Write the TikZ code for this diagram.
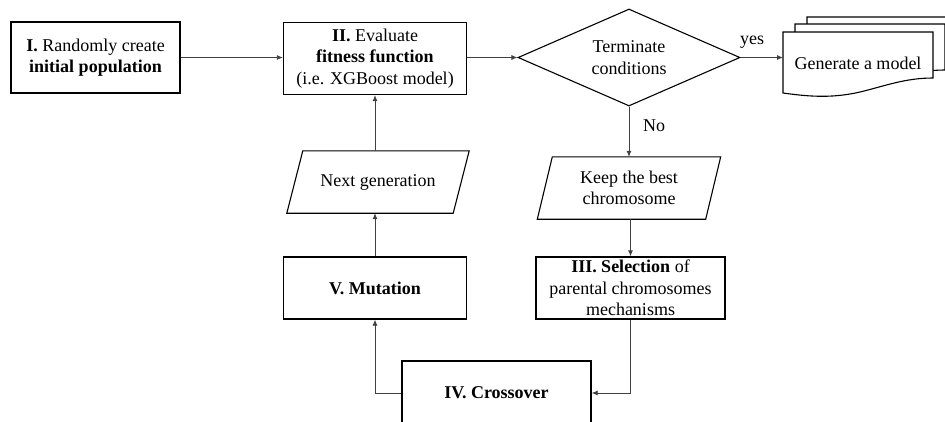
\documentclass[tikz,border=0pt]{standalone}
\usepackage{fontspec}
\setmainfont{Liberation Serif}
\usetikzlibrary{shapes.geometric,arrows.meta,calc}
\begin{document}
\begin{tikzpicture}[x=1pt,y=-1pt,
  every node/.style={font=\fontsize{18}{21.5}\selectfont, align=center, inner sep=0pt},
  rbox/.style={draw, line width=1.3pt, minimum height=62pt},
  dia/.style={draw, diamond, line width=1.1pt, aspect=2.3},
  para/.style={minimum height=62pt},
  paraline/.style={draw, line width=1.1pt},
  docline/.style={draw, line width=1.1pt, fill=white},
  conn/.style={draw=black!75, line width=0.8pt, -{Latex[length=6pt,width=5pt]}},
  lbl/.style={font=\fontsize{18}{21.5}\selectfont}]
\useasboundingbox (0,0) rectangle (945,421);
\clip (0,0) rectangle (945,421);

% nodes
\node[rbox, minimum width=169pt, minimum height=71pt] (init) at (95.5,57.5)
  {\textbf{I.} Randomly create\\\textbf{initial population}};
\node[rbox, minimum width=183pt, minimum height=72pt] (eval) at (375,58.5)
  {\textbf{II.} Evaluate\\\textbf{fitness function}\\(i.e. XGBoost model)};
\node[dia, minimum width=222pt, minimum height=97pt] (term) at (629,57.5)
  {Terminate\\conditions};

% document stack
\foreach \dx/\dy in {24/-15,12/-8,0/0}{
  \path[docline, shift={(\dx,\dy)}] (783,32) -- (933,32) -- (933,78)
    .. controls (905,78) and (885,86) .. (860,92)
    .. controls (830,99) and (805,96) .. (783,93) -- cycle;
}
\node (gen) at (858,63) [minimum width=150pt, minimum height=50pt] {Generate a model};
\coordinate (genw) at (783,57.5);

\node[para, minimum width=168pt] (keep) at (629,188) {Keep the best\\chromosome};
\path[paraline] ($(keep.north west)+(7.5,0)$) -- ($(keep.north east)+(7.5,0)$)
  -- ($(keep.south east)+(-7.5,0)$) -- ($(keep.south west)+(-7.5,0)$) -- cycle;

\node[rbox, minimum width=189pt] (sel) at (630.5,288)
  {\textbf{III. Selection} of\\parental chromosomes\\mechanisms};

\node[rbox, minimum width=189pt, minimum height=64pt] (cross) at (496.5,393)
  {\textbf{IV. Crossover}};

\node[rbox, minimum width=183pt] (mut) at (375,288) {\textbf{V. Mutation}};

\node[para, minimum width=166pt] (next) at (378,182) {Next generation};
\path[paraline] ($(next.north west)+(8,0)$) -- ($(next.north east)+(8,0)$)
  -- ($(next.south east)+(-8,0)$) -- ($(next.south west)+(-8,0)$) -- cycle;

% connectors
\draw[conn] (init.east) -- (init.east -| eval.west);
\draw[conn] (eval.east |- term.west) -- (term.west);
\draw[conn] (term.east) -- (genw);
\node[lbl] (yes) at (752,42) {yes};
\draw[conn] (term.south) -- (keep.north -| term.south);
\node[lbl] (no) at (654,126) {No};
\draw[conn] (keep.south -| sel.north) -- (sel.north);
\draw[conn] (sel.south) |- (cross.east);
\draw[conn] (cross.west) -| (mut.south);
\draw[conn] (mut.north) -- (next.south -| mut.north);
\draw[conn] (next.north -| eval.south) -- (eval.south);
\end{tikzpicture}
\end{document}
